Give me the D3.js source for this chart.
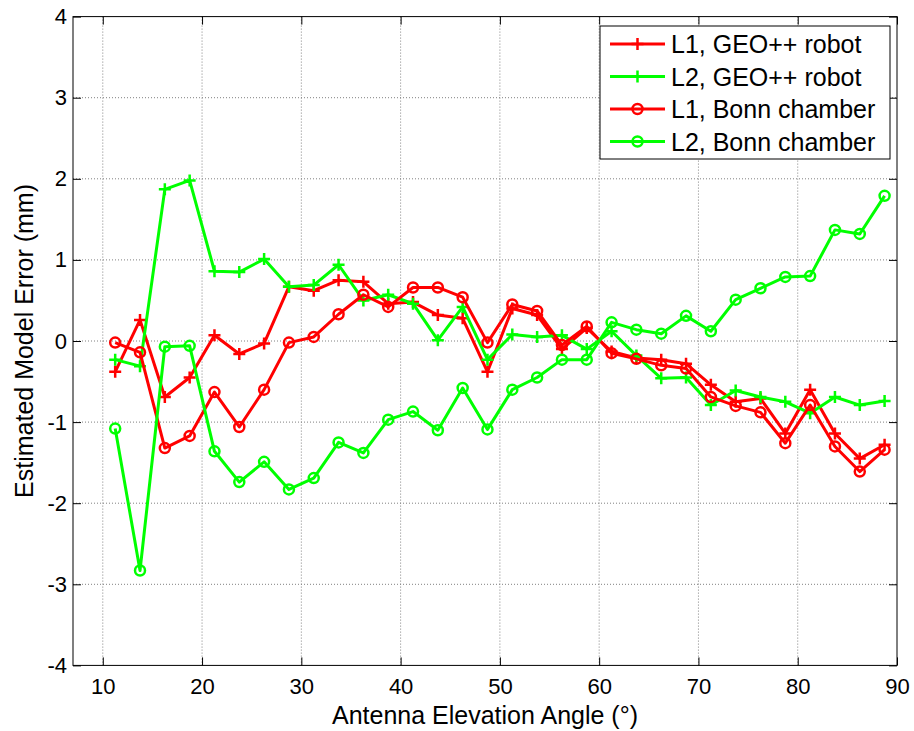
<!DOCTYPE html>
<html>
<head>
<meta charset="utf-8">
<script src="https://cdn.jsdelivr.net/npm/d3@7"></script>
<style>
  body { margin: 0; background: #fff; }
  svg { display: block; font-family: "Liberation Sans", Arial, sans-serif; }
</style>
</head>
<body>
<div id="chart"></div>
<script>
// elevation angles (deg)
var elev = [11.25, 13.75, 16.25, 18.75, 21.25, 23.75, 26.25, 28.75, 31.25, 33.75,
            36.25, 38.75, 41.25, 43.75, 46.25, 48.75, 51.25, 53.75, 56.25, 58.75,
            61.25, 63.75, 66.25, 68.75, 71.25, 73.75, 76.25, 78.75, 81.25, 83.75,
            86.25, 88.75];

var l1Geo = [-0.38, 0.26, -0.69, -0.45, 0.07, -0.16, -0.03, 0.67, 0.62, 0.75,
             0.73, 0.46, 0.48, 0.32, 0.28, -0.38, 0.40, 0.32, -0.10, 0.16,
             -0.13, -0.21, -0.23, -0.28, -0.54, -0.75, -0.71, -1.14, -0.60, -1.14,
             -1.45, -1.28];
var l2Geo = [-0.23, -0.31, 1.87, 1.98, 0.86, 0.85, 1.01, 0.67, 0.69, 0.94,
             0.50, 0.57, 0.46, 0.01, 0.42, -0.23, 0.08, 0.05, 0.07, -0.10,
             0.12, -0.18, -0.46, -0.45, -0.79, -0.61, -0.69, -0.75, -0.89, -0.69,
             -0.79, -0.74];
var l1Bonn = [-0.02, -0.14, -1.32, -1.17, -0.63, -1.06, -0.60, -0.02, 0.05, 0.33,
              0.57, 0.42, 0.66, 0.66, 0.54, -0.02, 0.45, 0.37, -0.05, 0.18,
              -0.15, -0.22, -0.30, -0.34, -0.69, -0.80, -0.88, -1.26, -0.79, -1.30,
              -1.61, -1.34];
var l2Bonn = [-1.08, -2.83, -0.07, -0.06, -1.36, -1.74, -1.49, -1.83, -1.69, -1.25,
              -1.38, -0.97, -0.87, -1.10, -0.58, -1.09, -0.60, -0.45, -0.23, -0.23,
              0.23, 0.14, 0.09, 0.31, 0.12, 0.51, 0.65, 0.79, 0.80, 1.37,
              1.32, 1.79];

var xTicks = [10, 20, 30, 40, 50, 60, 70, 80, 90];
var yTicks = [-4, -3, -2, -1, 0, 1, 2, 3, 4];

var seriesNames = ["L1, GEO++ robot", "L2, GEO++ robot", "L1, Bonn chamber", "L2, Bonn chamber"];
var seriesValues = [l1Geo, l2Geo, l1Bonn, l2Bonn];
var seriesColors = ["#ff0000", "#00ff00", "#ff0000", "#00ff00"];
var seriesMarkers = ["plus", "plus", "circle", "circle"];

var width = 914, height = 731;
var margin = {top: 16.6, right: 17, bottom: 65.6, left: 73};
var innerW = width - margin.left - margin.right;
var innerH = height - margin.top - margin.bottom;

var svg = d3.select("#chart").append("svg")
  .attr("width", width)
  .attr("height", height);

var g = svg.append("g")
  .attr("transform", "translate(" + margin.left + "," + margin.top + ")");

var x = d3.scaleLinear().domain([7, 90]).range([0, innerW]);
var y = d3.scaleLinear().domain([-4, 4]).range([innerH, 0]);

// plain hyphen for negatives, like the original
var plainFmt = function(d){ return String(d); };

// dotted grid
g.append("g").selectAll("line.vgrid")
  .data(xTicks.filter(function(d){ return d < 90; }))
  .enter().append("line")
  .attr("x1", function(d){ return x(d); })
  .attr("x2", function(d){ return x(d); })
  .attr("y1", 0).attr("y2", innerH)
  .attr("stroke", "#808080")
  .attr("stroke-width", 1)
  .attr("stroke-dasharray", "1,2");

g.append("g").selectAll("line.hgrid")
  .data(yTicks.filter(function(d){ return d > -4 && d < 4; }))
  .enter().append("line")
  .attr("x1", 0).attr("x2", innerW)
  .attr("y1", function(d){ return y(d); })
  .attr("y2", function(d){ return y(d); })
  .attr("stroke", "#808080")
  .attr("stroke-width", 1)
  .attr("stroke-dasharray", "1,2");

// axes, ticks pointing inward
var xAxis = g.append("g")
  .attr("transform", "translate(0," + innerH + ")")
  .call(d3.axisBottom(x).tickValues(xTicks).tickSize(-8).tickPadding(13).tickFormat(plainFmt));
var xAxisTop = g.append("g")
  .call(d3.axisTop(x).tickValues(xTicks).tickSize(-8).tickFormat(""));
var yAxis = g.append("g")
  .call(d3.axisLeft(y).tickValues(yTicks).tickSize(-8).tickPadding(6).tickFormat(plainFmt));
var yAxisRight = g.append("g")
  .attr("transform", "translate(" + innerW + ",0)")
  .call(d3.axisRight(y).tickValues(yTicks).tickSize(-8).tickFormat(""));

[xAxis, xAxisTop, yAxis, yAxisRight].forEach(function(a){
  a.select(".domain").remove();
  a.selectAll(".tick line").attr("stroke", "#000").attr("stroke-width", 1);
  a.selectAll(".tick text")
    .attr("font-family", "'Liberation Sans', Arial, sans-serif")
    .attr("font-size", "22px")
    .attr("fill", "#000");
});

// series lines and markers
var line = d3.line()
  .x(function(d, i){ return x(elev[i]); })
  .y(function(d){ return y(d); });

function drawMarker(sel, type, color) {
  if (type === "plus") {
    sel.append("path")
      .attr("d", "M-6,0H6M0,-6V6")
      .attr("stroke", color)
      .attr("stroke-width", 2.5)
      .attr("fill", "none");
  } else {
    sel.append("circle")
      .attr("r", 5)
      .attr("stroke", color)
      .attr("stroke-width", 2.5)
      .attr("fill", "none");
  }
}

seriesValues.forEach(function(vals, s){
  var sg = g.append("g").attr("class", "series");
  sg.append("path")
    .datum(vals)
    .attr("d", line)
    .attr("fill", "none")
    .attr("stroke", seriesColors[s])
    .attr("stroke-width", 3)
    .attr("stroke-linejoin", "round");

  sg.selectAll("g.mark")
    .data(vals)
    .enter().append("g")
    .attr("class", "mark")
    .attr("transform", function(d, i){ return "translate(" + x(elev[i]) + "," + y(d) + ")"; })
    .each(function(){ drawMarker(d3.select(this), seriesMarkers[s], seriesColors[s]); });
});

// frame
g.append("rect")
  .attr("width", innerW).attr("height", innerH)
  .attr("fill", "none")
  .attr("stroke", "#000")
  .attr("stroke-width", 1);

// axis labels
svg.append("text")
  .attr("x", margin.left + innerW / 2)
  .attr("y", 724)
  .attr("text-anchor", "middle")
  .attr("font-size", "25px")
  .text("Antenna Elevation Angle (°)");

svg.append("text")
  .attr("transform", "translate(33," + (margin.top + innerH / 2) + ") rotate(-90)")
  .attr("text-anchor", "middle")
  .attr("font-size", "25px")
  .text("Estimated Model Error (mm)");

// legend
var legend = svg.append("g").attr("transform", "translate(600,26)");
legend.append("rect")
  .attr("width", 290).attr("height", 133)
  .attr("fill", "#fff")
  .attr("stroke", "#000")
  .attr("stroke-width", 1);

seriesNames.forEach(function(name, s){
  var cy = 18 + s * 32.5;
  var item = legend.append("g");
  item.append("line")
    .attr("x1", 10).attr("x2", 65)
    .attr("y1", cy).attr("y2", cy)
    .attr("stroke", seriesColors[s])
    .attr("stroke-width", 3);
  var m = item.append("g").attr("transform", "translate(37.5," + cy + ")");
  drawMarker(m, seriesMarkers[s], seriesColors[s]);
  item.append("text")
    .attr("x", 71)
    .attr("y", cy + 9)
    .attr("font-size", "25px")
    .text(name);
});
</script>
</body>
</html>
